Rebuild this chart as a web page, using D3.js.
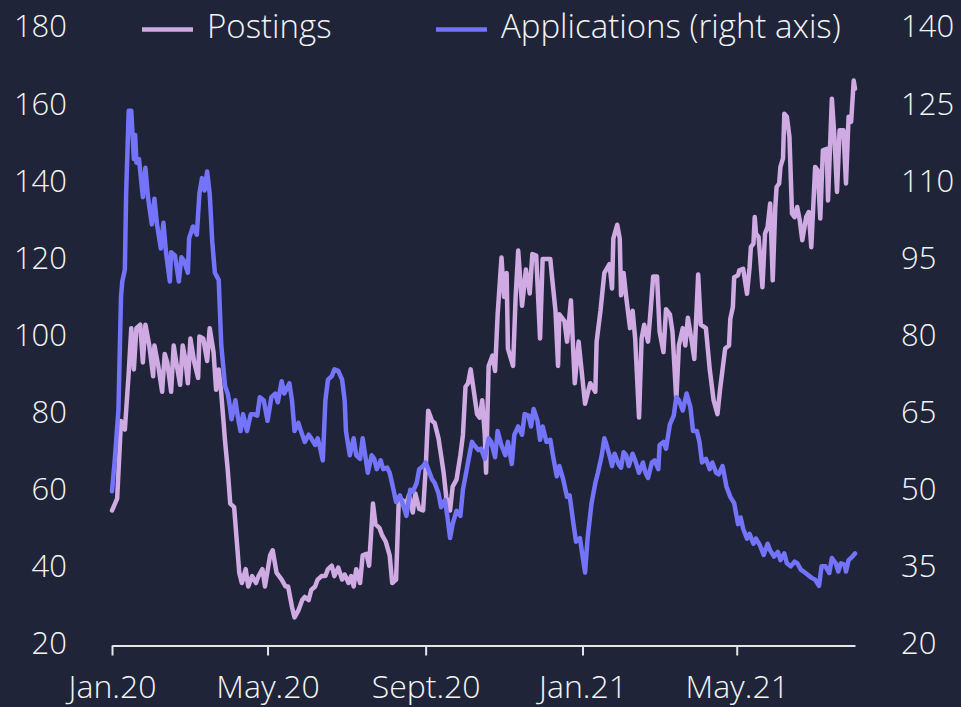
<!DOCTYPE html>
<html>
<head>
<meta charset="utf-8">
<script src="https://cdn.jsdelivr.net/npm/d3@7"></script>
<style>
  html, body { margin: 0; padding: 0; background: #1f2439; }
  svg { display: block; }
  text { font-family: "Open Sans", "DejaVu Sans", sans-serif; font-weight: 300; }
</style>
</head>
<body>
<div id="chart"></div>
<script>
// ---------- DATA ----------
const leftTicks = [20, 40, 60, 80, 100, 120, 140, 160, 180];
const rightTicks = [20, 35, 50, 65, 80, 95, 110, 125, 140];
const xTickDates = ["2020-01-01", "2020-05-01", "2020-09-01", "2021-01-01", "2021-05-01"];
const xTickLabels = ["Jan.20", "May.20", "Sept.20", "Jan.21", "May.21"];
const seriesNames = ["Postings", "Applications (right axis)"];

const postingsDates = [
"2020-01-01","2020-01-05","2020-01-08","2020-01-11","2020-01-14","2020-01-16","2020-01-18","2020-01-20","2020-01-23","2020-01-25",
"2020-01-27","2020-01-30","2020-02-02","2020-02-03","2020-02-06","2020-02-09","2020-02-11","2020-02-13","2020-02-16","2020-02-18",
"2020-02-20","2020-02-23","2020-02-25","2020-02-27","2020-02-29","2020-03-02","2020-03-05","2020-03-08","2020-03-09","2020-03-12",
"2020-03-15","2020-03-17","2020-03-20","2020-03-22","2020-03-24","2020-03-26","2020-03-29","2020-03-31","2020-04-02","2020-04-05",
"2020-04-09","2020-04-11","2020-04-14","2020-04-16","2020-04-19","2020-04-22","2020-04-24","2020-04-27","2020-04-29","2020-05-03",
"2020-05-05","2020-05-08","2020-05-12","2020-05-15","2020-05-17","2020-05-20","2020-05-22","2020-05-25","2020-05-28","2020-05-30",
"2020-06-02","2020-06-04","2020-06-07","2020-06-09","2020-06-12","2020-06-15","2020-06-17","2020-06-20","2020-06-22","2020-06-25",
"2020-06-28","2020-06-30","2020-07-03","2020-07-05","2020-07-07","2020-07-09","2020-07-12","2020-07-14","2020-07-17","2020-07-19",
"2020-07-22","2020-07-24","2020-07-27","2020-07-29","2020-08-01","2020-08-04","2020-08-06","2020-08-09","2020-08-11","2020-08-14",
"2020-08-17","2020-08-19","2020-08-22","2020-08-24","2020-08-27","2020-08-30","2020-09-01","2020-09-03","2020-09-06","2020-09-08",
"2020-09-11","2020-09-13","2020-09-15","2020-09-17","2020-09-20","2020-09-22","2020-09-25","2020-09-28","2020-09-30","2020-10-02",
"2020-10-04","2020-10-06","2020-10-08","2020-10-11","2020-10-13","2020-10-15","2020-10-17","2020-10-18","2020-10-20","2020-10-23",
"2020-10-25","2020-10-27","2020-10-30","2020-11-01","2020-11-03","2020-11-04","2020-11-08","2020-11-10","2020-11-12","2020-11-15",
"2020-11-18","2020-11-21","2020-11-23","2020-11-26","2020-11-29","2020-12-01","2020-12-07","2020-12-08","2020-12-11","2020-12-13",
"2020-12-14","2020-12-18","2020-12-20","2020-12-23","2020-12-26","2020-12-29","2021-01-03","2021-01-07","2021-01-11","2021-01-12",
"2021-01-15","2021-01-18","2021-01-22","2021-01-24","2021-01-25","2021-01-28","2021-01-30","2021-01-31","2021-02-02","2021-02-04",
"2021-02-07","2021-02-09","2021-02-11","2021-02-14","2021-02-16","2021-02-18","2021-02-21","2021-02-23","2021-02-25","2021-02-28",
"2021-03-02","2021-03-05","2021-03-07","2021-03-10","2021-03-12","2021-03-15","2021-03-17","2021-03-20","2021-03-22","2021-03-24",
"2021-03-27","2021-03-29","2021-04-01","2021-04-03","2021-04-07","2021-04-10","2021-04-13","2021-04-16","2021-04-18","2021-04-22",
"2021-04-25","2021-04-26","2021-04-28","2021-04-29","2021-05-02","2021-05-03","2021-05-06","2021-05-09","2021-05-11","2021-05-12",
"2021-05-14","2021-05-15","2021-05-16","2021-05-18","2021-05-21","2021-05-23","2021-05-25","2021-05-27","2021-05-29","2021-05-31",
"2021-06-01","2021-06-03","2021-06-04","2021-06-06","2021-06-07","2021-06-09","2021-06-11","2021-06-13","2021-06-15","2021-06-17",
"2021-06-19","2021-06-21","2021-06-24","2021-06-26","2021-06-28","2021-07-01","2021-07-03","2021-07-05","2021-07-07","2021-07-10",
"2021-07-11","2021-07-14","2021-07-16","2021-07-18","2021-07-20","2021-07-23","2021-07-25","2021-07-27","2021-07-29","2021-07-31",
"2021-08-01"];
const postingsValues = [
55.0,58.1,78.2,76.0,90.7,102.3,91.6,102.3,103.2,93.4,
103.2,97.8,89.8,97.8,92.5,85.8,95.6,93.4,85.8,97.8,
93.4,87.6,97.8,94.3,88.0,99.6,93.4,89.4,100.1,99.6,
93.8,102.3,96.1,86.3,91.6,85.4,72.8,65.7,56.8,55.9,
38.9,36.2,39.8,35.3,38.0,36.2,38.0,39.8,35.3,43.4,
44.7,38.9,37.1,35.3,35.3,30.0,27.3,29.1,31.8,32.6,
31.8,34.4,35.3,37.1,38.0,38.0,39.8,40.7,38.0,40.2,
37.1,38.4,36.2,38.0,35.3,39.8,36.2,43.4,43.8,40.7,
56.8,51.4,50.5,48.7,46.9,43.4,36.2,37.1,56.8,57.7,
56.8,59.0,54.5,59.4,55.4,55.0,65.7,80.9,78.2,77.7,
73.7,69.3,64.8,58.5,55.0,61.2,63.0,69.3,74.6,87.1,
88.0,91.6,87.1,80.0,79.1,83.6,74.6,64.8,92.5,95.2,
91.2,105.9,120.6,110.4,116.6,97.0,92.5,110.4,122.4,108.1,
117.5,111.3,121.5,121.1,99.6,120.2,120.2,116.6,106.8,92.5,
105.9,104.1,98.8,109.5,88.0,98.8,82.7,88.0,85.8,98.8,
106.8,116.6,118.9,112.6,125.5,129.1,125.5,110.8,116.6,110.4,
102.3,106.8,99.6,79.1,99.6,103.2,98.8,106.8,115.7,115.7,
101.4,96.1,107.2,105.9,101.4,83.6,97.8,102.3,97.8,105.0,
98.8,94.3,116.2,103.2,102.3,91.6,83.6,80.0,86.3,97.0,
97.8,104.7,107.8,115.5,116.0,117.3,117.7,111.2,118.1,123.3,
124.2,131.1,126.8,125.9,112.9,126.8,128.5,134.6,114.7,133.7,
138.9,139.8,144.1,146.3,157.9,157.1,151.9,132.0,131.1,133.7,
130.3,125.1,131.1,132.4,123.3,144.1,143.2,130.7,148.4,148.8,
135.4,161.8,151.9,137.6,153.6,153.6,139.8,157.1,155.8,166.5,
164.4];

const applicationsDates = [
"2020-01-01","2020-01-03","2020-01-06","2020-01-08","2020-01-09","2020-01-11","2020-01-12","2020-01-14","2020-01-16","2020-01-18",
"2020-01-19","2020-01-20","2020-01-22","2020-01-25","2020-01-27","2020-01-29","2020-02-01","2020-02-03","2020-02-05","2020-02-08",
"2020-02-10","2020-02-12","2020-02-15","2020-02-16","2020-02-19","2020-02-22","2020-02-24","2020-02-26","2020-02-29","2020-03-01",
"2020-03-04","2020-03-07","2020-03-09","2020-03-11","2020-03-13","2020-03-15","2020-03-17","2020-03-19","2020-03-21","2020-03-24",
"2020-03-26","2020-03-29","2020-03-31","2020-04-01","2020-04-03","2020-04-06","2020-04-08","2020-04-10","2020-04-12","2020-04-15",
"2020-04-18","2020-04-20","2020-04-23","2020-04-25","2020-04-28","2020-05-01","2020-05-04","2020-05-07","2020-05-09","2020-05-12",
"2020-05-14","2020-05-18","2020-05-20","2020-05-22","2020-05-25","2020-05-27","2020-05-30","2020-06-02","2020-06-04","2020-06-07",
"2020-06-09","2020-06-11","2020-06-13","2020-06-15","2020-06-17","2020-06-20","2020-06-22","2020-06-25","2020-06-28","2020-06-30",
"2020-07-01","2020-07-04","2020-07-07","2020-07-09","2020-07-12","2020-07-14","2020-07-18","2020-07-21","2020-07-23","2020-07-25",
"2020-07-28","2020-07-30","2020-08-02","2020-08-04","2020-08-07","2020-08-09","2020-08-12","2020-08-15","2020-08-17","2020-08-20",
"2020-08-22","2020-08-25","2020-08-27","2020-08-30","2020-09-01","2020-09-03","2020-09-06","2020-09-08","2020-09-11","2020-09-13",
"2020-09-16","2020-09-18","2020-09-20","2020-09-22","2020-09-25","2020-09-28","2020-09-30","2020-10-03","2020-10-05","2020-10-07",
"2020-10-09","2020-10-12","2020-10-14","2020-10-17","2020-10-20","2020-10-22","2020-10-25","2020-10-27","2020-10-30","2020-11-02",
"2020-11-04","2020-11-07","2020-11-09","2020-11-12","2020-11-15","2020-11-17","2020-11-20","2020-11-22","2020-11-24","2020-11-27",
"2020-11-29","2020-12-01","2020-12-04","2020-12-07","2020-12-09","2020-12-12","2020-12-14","2020-12-17","2020-12-20","2020-12-22",
"2020-12-25","2020-12-27","2020-12-30","2021-01-01","2021-01-03","2021-01-05","2021-01-08","2021-01-11","2021-01-13","2021-01-16",
"2021-01-18","2021-01-19","2021-01-22","2021-01-24","2021-01-26","2021-01-29","2021-01-31","2021-02-02","2021-02-04","2021-02-06",
"2021-02-09","2021-02-11","2021-02-14","2021-02-17","2021-02-19","2021-02-21","2021-02-24","2021-02-26","2021-03-01","2021-03-02",
"2021-03-05","2021-03-07","2021-03-10","2021-03-13","2021-03-15","2021-03-17","2021-03-20","2021-03-23","2021-03-26","2021-03-28",
"2021-03-31","2021-04-02","2021-04-04","2021-04-07","2021-04-10","2021-04-12","2021-04-15","2021-04-17","2021-04-20","2021-04-23",
"2021-04-26","2021-04-29","2021-05-02","2021-05-04","2021-05-06","2021-05-09","2021-05-11","2021-05-14","2021-05-16","2021-05-19",
"2021-05-22","2021-05-25","2021-05-27","2021-05-30","2021-06-02","2021-06-04","2021-06-07","2021-06-09","2021-06-12","2021-06-15",
"2021-06-17","2021-06-20","2021-06-22","2021-06-25","2021-06-28","2021-07-01","2021-07-04","2021-07-06","2021-07-09","2021-07-12",
"2021-07-14","2021-07-17","2021-07-19","2021-07-21","2021-07-24","2021-07-25","2021-07-27","2021-07-30","2021-08-01"];
const applicationsValues = [
50.0,55.6,65.7,87.8,90.8,93.1,107.9,124.0,124.0,114.6,
119.3,113.9,114.6,107.2,112.9,107.2,101.9,106.9,101.9,97.2,
102.2,96.5,90.8,96.5,95.8,90.8,95.5,94.8,92.5,99.2,
101.5,99.9,107.9,110.9,108.5,112.2,107.9,98.5,92.5,91.1,
78.4,70.4,69.0,67.7,64.0,67.7,64.3,61.7,65.0,61.7,
65.0,65.0,64.7,68.3,67.7,63.7,68.3,69.0,67.3,71.4,
69.0,71.0,67.7,61.7,63.3,61.7,59.6,61.0,60.3,59.0,
60.3,58.3,56.0,67.7,71.7,72.4,73.7,73.4,71.7,67.7,
61.7,57.0,60.3,57.0,56.3,60.3,53.6,57.0,56.3,54.3,
56.0,54.3,54.6,53.6,50.3,47.9,49.2,46.9,45.2,50.3,
49.9,51.6,54.3,54.9,55.6,54.3,52.3,51.6,49.6,46.9,
48.3,44.9,40.9,43.6,46.2,45.2,50.3,54.3,57.0,59.6,
58.9,58.0,58.3,56.3,60.3,59.6,56.6,61.7,58.9,57.0,
59.6,55.3,61.0,62.6,61.0,65.0,64.7,62.6,66.0,63.7,
60.0,62.6,59.6,60.0,57.0,52.9,54.9,52.3,48.9,49.2,
43.6,40.2,40.9,37.5,34.2,40.9,47.6,51.6,53.6,57.0,
60.3,59.6,57.0,54.9,57.3,55.3,54.6,57.6,57.0,54.9,
57.3,56.0,53.6,55.6,53.6,52.6,55.6,56.0,54.3,59.0,
59.6,58.3,63.0,64.7,68.3,67.7,65.7,69.0,66.3,61.7,
61.7,59.6,55.6,56.3,54.3,55.6,53.6,53.3,54.9,50.9,
48.9,47.7,43.6,44.9,42.7,40.8,41.7,39.8,40.8,39.5,
37.6,39.8,38.5,37.3,38.2,36.6,37.9,36.0,35.4,36.3,
36.0,34.7,34.4,33.8,33.2,32.8,31.6,35.4,35.4,34.1,
37.0,36.0,34.4,36.0,35.7,34.4,36.6,37.3,37.9];

// ---------- CHART ----------
const W = 961, H = 707;
const colors = { bg: "#1f2439", postings: "#cfaae3", applications: "#7474fa", text: "#f4f4f4", axis: "#e6e6e6" };
const parse = d3.timeParse("%Y-%m-%d");

const svg = d3.select("#chart").append("svg").attr("width", W).attr("height", H);
svg.append("rect").attr("width", W).attr("height", H).attr("fill", colors.bg);

const x = d3.scaleTime().domain([parse("2020-01-01"), parse("2021-08-01")]).range([112, 855]);
const yL = d3.scaleLinear().domain([20, 180]).range([645.5, 28.5]);
const yR = d3.scaleLinear().domain([20, 140]).range([645.5, 28.5]);

const postings = postingsDates.map((d, i) => ({ date: parse(d), value: postingsValues[i] }));
const applications = applicationsDates.map((d, i) => ({ date: parse(d), value: applicationsValues[i] }));

const lineL = d3.line().x(d => x(d.date)).y(d => yL(d.value));
const lineR = d3.line().x(d => x(d.date)).y(d => yR(d.value));

svg.append("path").datum(postings).attr("d", lineL)
  .attr("fill", "none").attr("stroke", colors.postings).attr("stroke-width", 4.5)
  .attr("stroke-linejoin", "round").attr("stroke-linecap", "round");
svg.append("path").datum(applications).attr("d", lineR)
  .attr("fill", "none").attr("stroke", colors.applications).attr("stroke-width", 4.5)
  .attr("stroke-linejoin", "round").attr("stroke-linecap", "round");

const numSize = 31;
const labelSize = 33;
const xLabelSize = 32;

// Left axis
const gL = svg.append("g").attr("transform", "translate(67,0)")
  .call(d3.axisLeft(yL).tickValues(leftTicks).tickSize(0).tickPadding(0));
gL.select(".domain").remove();
gL.selectAll("text").attr("fill", colors.text).attr("font-size", numSize)
  .attr("font-family", null).attr("dy", "0.27em");

// Right axis
const gR = svg.append("g").attr("transform", "translate(901,0)")
  .call(d3.axisRight(yR).tickValues(rightTicks).tickSize(0).tickPadding(0));
gR.select(".domain").remove();
gR.selectAll("text").attr("fill", colors.text).attr("font-size", numSize)
  .attr("font-family", null).attr("dy", "0.27em");

// Bottom axis
const gX = svg.append("g").attr("transform", "translate(0,645.5)")
  .call(d3.axisBottom(x).tickValues(xTickDates.map(parse))
    .tickFormat((d, i) => xTickLabels[i]).tickSizeInner(10).tickSizeOuter(0));
gX.select(".domain").attr("stroke", colors.axis).attr("stroke-width", 2);
gX.selectAll(".tick line").attr("stroke", colors.axis).attr("stroke-width", 2);
gX.selectAll("text").attr("fill", colors.text).attr("font-size", xLabelSize)
  .attr("font-family", null).attr("y", 52.5).attr("dy", 0);

// Legend
const legend = svg.append("g");
const legendItems = [
  { name: seriesNames[0], color: colors.postings, x1: 142, x2: 193, tx: 207 },
  { name: seriesNames[1], color: colors.applications, x1: 436, x2: 487, tx: 501 }
];
legendItems.forEach(it => {
  legend.append("line").attr("x1", it.x1).attr("x2", it.x2).attr("y1", 29.5).attr("y2", 29.5)
    .attr("stroke", it.color).attr("stroke-width", 4.5);
  legend.append("text").attr("x", it.tx).attr("y", 38).attr("fill", colors.text)
    .attr("font-size", labelSize).text(it.name);
});
</script>
</body>
</html>
